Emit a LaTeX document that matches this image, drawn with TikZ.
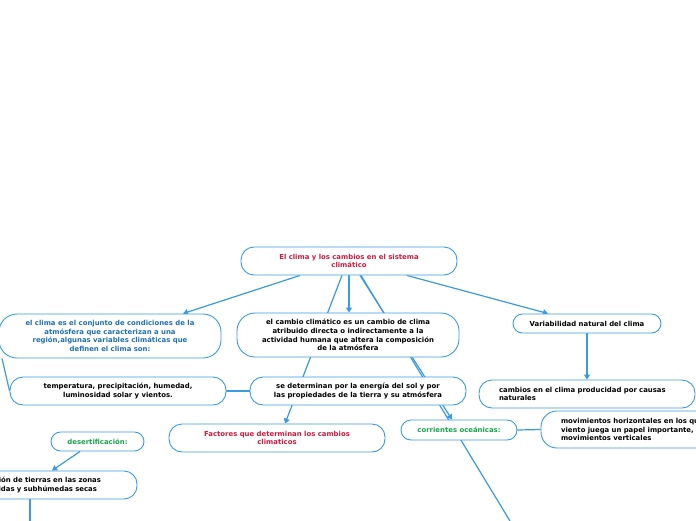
\documentclass[tikz,border=0pt]{standalone}
\usepackage{fontspec}
\setmainfont{DejaVu Sans}
\usetikzlibrary{arrows.meta,backgrounds}
\definecolor{lineblue}{HTML}{3A9BE0}
\definecolor{txtred}{HTML}{CC1A3D}
\definecolor{txtblue}{HTML}{1F70B3}
\definecolor{txtgreen}{HTML}{17A44C}
\tikzset{
  box/.style={draw=lineblue, line width=0.9pt, fill=white, rounded corners=13pt,
    inner sep=0pt, align=center, text=black,
    font=\bfseries\fontsize{6.9}{8.7}\selectfont},
  bigbox/.style={box, rounded corners=18pt},
  conn/.style={draw=lineblue, line width=1.2pt},
  arr/.style={conn, -{Triangle[width=6pt,length=5pt]}},
}
\begin{document}
\begin{tikzpicture}[x=1pt,y=-1pt]
\useasboundingbox (0,0) rectangle (696,520);
\clip (0,0) rectangle (696,520);
% nodes
\node[box, minimum width=216pt, minimum height=28pt, text=txtred] (top) at (349,261)
  {El clima y los cambios en el sistema\\climático};
\node[bigbox, minimum width=222pt, minimum height=44pt] (cambio) at (348,335)
  {el cambio climático es un cambio de clima\\atribuido directa o indirectamente a la\\actividad humana que altera la composición\\de la atmósfera};
\node[bigbox, minimum width=222pt, minimum height=44pt, text=txtblue] (left) at (110,336)
  {el clima es el conjunto de condiciones de la\\atmósfera que caracterizan a una\\región,algunas variables climáticas que\\definen el clima son:};
\node[box, minimum width=216pt, minimum height=28pt] (temp) at (118,391)
  {temperatura, precipitación, humedad,\\luminosidad solar y vientos.};
\node[box, minimum width=216pt, minimum height=28pt] (sedet) at (358,391)
  {se determinan por la energía del sol y por\\las propiedades de la tierra y su atmósfera};
\node[box, minimum width=216pt, minimum height=28pt, text=txtred] (factores) at (277,438)
  {Factores que determinan los cambios\\climaticos};
\node[box, rounded corners=9.5pt, minimum width=148pt, minimum height=19pt] (variab) at (587,323.5)
  {Variabilidad natural del clima};
\node[box, minimum height=28pt, text width=176pt, inner xsep=20pt, align=left] (cambios) at (587,394)
  {cambios en el clima producidad por causas\\naturales};
\node[box, rounded corners=16pt, minimum height=37pt, text width=200pt, inner xsep=20pt, align=left] (movim) at (661,429.5)
  {movimientos horizontales en los que el\\viento juega un papel importante, y\\movimientos verticales};
\node[box, rounded corners=10pt, minimum width=116pt, minimum height=20pt, text=txtgreen] (corr) at (459,430)
  {corrientes oceánicas:};
\node[box, rounded corners=9.5pt, minimum width=93pt, minimum height=19pt, text=txtgreen] (desert) at (97.5,441.5)
  {desertificación:};
\node[box, minimum height=28pt, text width=180pt, inner xsep=36pt, align=right] (degrad) at (11,485)
  {degradación de tierras en las zonas\\áridas y subhúmedas secas\hspace*{4pt}};
\coordinate (offa) at (510,521);
\coordinate (offb) at (30,530);
% connectors
\begin{scope}[on background layer]
\fill[white] (0,0) rectangle (696,520);
\draw[arr] ([xshift=-49pt]top.south) -- ([xshift=73pt]left.north);
\draw[arr] ([xshift=58pt]top.south) -- ([xshift=-39pt]variab.north);
\draw[arr] (top.south) -- (top.south |- cambio.north);
\draw[arr] ([xshift=-7pt]top.south) -- ([xshift=8pt]factores.north);
\draw[arr] ([xshift=11pt]top.south) -- ([xshift=-7pt]corr.north);
\draw[conn] ([xshift=12pt]top.south) -- (offa);
\draw[conn] ([xshift=-108pt]left.south) -- (temp.west);
\draw[conn, line width=1.8pt] (temp.east) -- (sedet.west);
\draw[arr] (variab.south) -- (variab.south |- cambios.north);
\draw[conn] (corr.east) -- (movim.west);
\draw[arr] ([xshift=-17.5pt]desert.south) -- ([xshift=41pt]degrad.north);
\draw[conn] (degrad.south -| offb) -- (offb);
\end{scope}
\end{tikzpicture}
\end{document}
